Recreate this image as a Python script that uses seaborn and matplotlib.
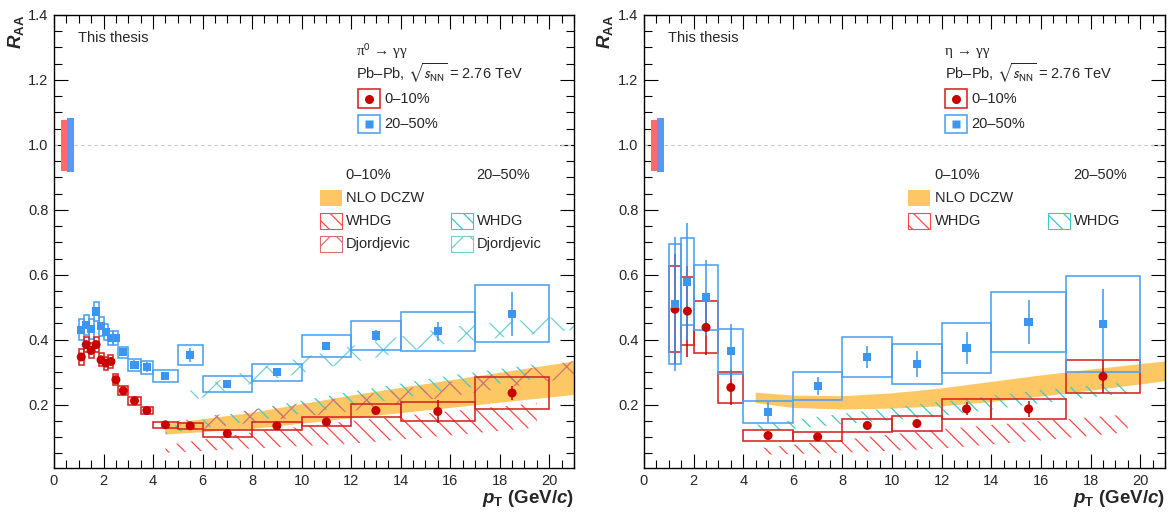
import numpy as np
import pandas as pd
import matplotlib
matplotlib.use("Agg")
import matplotlib.pyplot as plt
from matplotlib.patches import Rectangle
from matplotlib.ticker import MultipleLocator, FormatStrFormatter
import seaborn as sns

# ---------------- pi0 -> gamma gamma (left panel) ----------------
pi_pt = [1.1, 1.3, 1.5, 1.7, 1.9, 2.1, 2.3, 2.5, 2.8, 3.25, 3.75, 4.5, 5.5, 7, 9, 11, 13, 15.5, 18.5]
pi_lo = [1.0, 1.2, 1.4, 1.6, 1.8, 2.0, 2.2, 2.4, 2.6, 3.0, 3.5, 4, 5, 6, 8, 10, 12, 14, 17]
pi_hi = [1.2, 1.4, 1.6, 1.8, 2.0, 2.2, 2.4, 2.6, 3.0, 3.5, 4.0, 5, 6, 8, 10, 12, 14, 17, 20]
pi_c0 = [0.347, 0.385, 0.367, 0.385, 0.338, 0.328, 0.333, 0.277, 0.243, 0.212, 0.182, 0.138, 0.135, 0.111, 0.135, 0.147, 0.182, 0.179, 0.236]
pi_c0_sys = [0.024, 0.024, 0.024, 0.024, 0.02, 0.02, 0.02, 0.017, 0.014, 0.012, 0.011, 0.009, 0.009, 0.01, 0.012, 0.014, 0.021, 0.03, 0.05]
pi_c0_stat = [0.01, 0.01, 0.01, 0.01, 0.01, 0.01, 0.01, 0.008, 0.008, 0.006, 0.005, 0.004, 0.005, 0.006, 0.008, 0.01, 0.012, 0.035, 0.022]
pi_c2 = [0.431, 0.446, 0.433, 0.487, 0.441, 0.423, 0.405, 0.405, 0.361, 0.323, 0.316, 0.289, 0.352, 0.264, 0.30, 0.381, 0.413, 0.426, 0.48]
pi_c2_sys = [0.032, 0.03, 0.03, 0.03, 0.028, 0.025, 0.022, 0.022, 0.018, 0.019, 0.02, 0.019, 0.031, 0.025, 0.026, 0.035, 0.044, 0.06, 0.088]
pi_c2_stat = [0.012, 0.012, 0.012, 0.015, 0.012, 0.012, 0.012, 0.012, 0.012, 0.014, 0.015, 0.008, 0.022, 0.01, 0.012, 0.012, 0.018, 0.03, 0.068]

pi_nlo_pt = [4.5, 8, 12, 16, 21]
pi_nlo_lo = [0.108, 0.125, 0.158, 0.19, 0.23]
pi_nlo_hi = [0.14, 0.175, 0.228, 0.275, 0.333]
pi_whdg0_pt = [4.5, 8, 12, 16, 19.5]
pi_whdg0_lo = [0.052, 0.065, 0.08, 0.105, 0.13]
pi_whdg0_hi = [0.075, 0.115, 0.15, 0.18, 0.205]
pi_whdg2_pt = [4.5, 8, 12, 16, 19.5]
pi_whdg2_lo = [0.11, 0.15, 0.195, 0.245, 0.28]
pi_whdg2_hi = [0.13, 0.185, 0.24, 0.29, 0.325]
pi_djo0_pt = [5, 8, 12, 16, 21]
pi_djo0_lo = [0.115, 0.145, 0.18, 0.225, 0.285]
pi_djo0_hi = [0.15, 0.185, 0.225, 0.27, 0.335]
pi_djo2_pt = [5, 8, 12, 16, 21]
pi_djo2_lo = [0.2, 0.265, 0.33, 0.39, 0.43]
pi_djo2_hi = [0.23, 0.31, 0.38, 0.44, 0.475]

# ---------------- eta -> gamma gamma (right panel) ----------------
eta_pt = [1.25, 1.75, 2.5, 3.5, 5, 7, 9, 11, 13, 15.5, 18.5]
eta_lo = [1.0, 1.5, 2, 3, 4, 6, 8, 10, 12, 14, 17]
eta_hi = [1.5, 2.0, 3, 4, 6, 8, 10, 12, 14, 17, 20]
eta_c0 = [0.494, 0.488, 0.438, 0.253, 0.105, 0.101, 0.136, 0.142, 0.187, 0.187, 0.287]
eta_c0_sys = [0.132, 0.105, 0.08, 0.048, 0.017, 0.014, 0.019, 0.023, 0.031, 0.032, 0.051]
eta_c0_stat = [0.17, 0.14, 0.085, 0.055, 0.013, 0.01, 0.012, 0.015, 0.02, 0.025, 0.052]
eta_c2 = [0.51, 0.579, 0.53, 0.364, 0.177, 0.258, 0.347, 0.325, 0.374, 0.454, 0.449]
eta_c2_sys = [0.185, 0.135, 0.099, 0.069, 0.033, 0.043, 0.062, 0.062, 0.077, 0.093, 0.147]
eta_c2_stat = [0.205, 0.18, 0.117, 0.085, 0.03, 0.028, 0.035, 0.04, 0.05, 0.067, 0.107]

eta_nlo_pt = [4.5, 6, 8, 10, 12, 14, 16, 18, 21]
eta_nlo_lo = [0.205, 0.19, 0.185, 0.188, 0.195, 0.208, 0.225, 0.243, 0.272]
eta_nlo_hi = [0.237, 0.228, 0.226, 0.235, 0.25, 0.27, 0.29, 0.308, 0.333]
eta_whdg0_pt = [4.5, 8, 12, 16, 19.5]
eta_whdg0_lo = [0.045, 0.052, 0.065, 0.09, 0.115]
eta_whdg0_hi = [0.065, 0.092, 0.125, 0.15, 0.17]
eta_whdg2_pt = [4.5, 8, 12, 16, 19.5]
eta_whdg2_lo = [0.115, 0.14, 0.165, 0.205, 0.235]
eta_whdg2_hi = [0.138, 0.172, 0.21, 0.245, 0.27]

norm_red = [0.28, 0.54, 0.92, 1.078]
norm_blue = [0.54, 0.80, 0.915, 1.083]

# ---------------- style ----------------
sns.set_theme(style="ticks")
plt.rcParams["font.family"] = ["Liberation Sans", "DejaVu Sans"]
plt.rcParams["mathtext.fontset"] = "custom"
plt.rcParams["mathtext.rm"] = "Liberation Sans:bold"
plt.rcParams["mathtext.bf"] = "Liberation Sans:bold"
plt.rcParams["mathtext.it"] = "Liberation Sans:italic:bold"
plt.rcParams["hatch.linewidth"] = 0.9

RED = "#c80000"
RED_BOX = "#d42424"
BLUE = "#3a96f0"
BLUE_BOX = "#4aa0f2"
ORANGE = "#fdc864"
WRED = "#ff4a4a"
WCYAN = "#3cc8c8"
DRED = "#d77070"
DCYAN = "#70d0d0"
FS = 10.5
SERIF = ["Liberation Serif", "DejaVu Serif"]

fig = plt.figure(figsize=(11.7, 5.14), dpi=100)
axL = fig.add_axes([54 / 1170, 46 / 514, 520 / 1170, 453 / 514])
axR = fig.add_axes([644 / 1170, 46 / 514, 521 / 1170, 453 / 514])


def band(ax, x, lo, hi, **kw):
    ax.fill_between(x, lo, hi, **kw)


def hatch_band(ax, x, lo, hi, color, hatch, z=2):
    ax.fill_between(x, lo, hi, facecolor="none", edgecolor=color, hatch=hatch,
                    linewidth=0, zorder=z)


def data_series(ax, pt, lo, hi, c, sys_, stat, mcolor, bcolor, marker, size):
    for a, b, v, e in zip(lo, hi, c, sys_):
        ax.add_patch(Rectangle((a, v - e), b - a, 2 * e, fill=False,
                               edgecolor=bcolor, lw=1.15, zorder=4))
    ax.vlines(pt, np.array(c) - np.array(stat), np.array(c) + np.array(stat),
              color=mcolor, lw=1.1, zorder=5)
    df = pd.DataFrame({"pt": pt, "raa": c})
    sns.scatterplot(data=df, x="pt", y="raa", ax=ax, marker=marker, color=mcolor,
                    s=size, edgecolor="none", linewidth=0, zorder=6, legend=False)


def frame(ax):
    ax.set_xlim(0, 21)
    ax.set_ylim(0.005, 1.4)
    ax.xaxis.set_major_locator(MultipleLocator(2))
    ax.xaxis.set_minor_locator(MultipleLocator(0.5))
    ax.yaxis.set_major_locator(MultipleLocator(0.2))
    ax.yaxis.set_minor_locator(MultipleLocator(0.05))
    ax.yaxis.set_major_formatter(FormatStrFormatter("%.1f"))
    ax.set_yticks([0.2, 0.4, 0.6, 0.8, 1.0, 1.2, 1.4])
    ax.tick_params(which="both", direction="in", top=True, right=True,
                   width=0.8, color="black", labelsize=FS)
    ax.tick_params(which="major", length=10, pad=4)
    ax.tick_params(which="minor", length=5.5)
    for sp in ax.spines.values():
        sp.set_visible(True)
        sp.set_linewidth(1.0)
        sp.set_color("black")
    ax.set_xlabel("")
    ax.set_ylabel("")
    ax.axhline(1.0, color="#c8c8c8", lw=0.8, ls=(0, (3, 3)), zorder=1)
    ax.add_patch(Rectangle((norm_red[0], norm_red[2]), norm_red[1] - norm_red[0],
                           norm_red[3] - norm_red[2], facecolor="#ff6a6a",
                           edgecolor="none", zorder=3))
    ax.add_patch(Rectangle((norm_blue[0], norm_blue[2]), norm_blue[1] - norm_blue[0],
                           norm_blue[3] - norm_blue[2], facecolor="#5a98f4",
                           edgecolor="none", zorder=3))
    ax.text(-0.074, 1.0, r"$R_{\mathrm{AA}}$", rotation=90, ha="center", va="top",
            transform=ax.transAxes, fontsize=13.5)
    ax.text(1.0, -0.045, r"$p_{\mathrm{T}}$ (GeV/$c$)", ha="right", va="top",
            transform=ax.transAxes, fontsize=13.5, fontweight="bold")
    ax.text(0.046, 0.949, "This thesis", transform=ax.transAxes, fontsize=FS,
            ha="left", va="center")


def swatch(ax, x0, y0, w, h, **kw):
    ax.add_patch(Rectangle((x0, y0), w, h, transform=ax.transAxes, clip_on=False,
                           zorder=7, **kw))


def legend_block(ax, title, xt, xb, xh0, xh2, xs0, xs2, djo):
    T = ax.transAxes
    ax.text(xt, 0.919, title, transform=T, fontsize=FS + 0.5, va="center",
            ha="left", family=SERIF, math_fontfamily="stixsans")
    ax.text(xt, 0.872, r"Pb–Pb, $\sqrt{s_{\mathrm{NN}}}$ = 2.76 TeV", transform=T,
            fontsize=FS, va="center", ha="left", math_fontfamily="stixsans")
    w = 0.043
    for yc, bc, mc, mk, lab, ms in [(0.8156, RED_BOX, RED, "o", "0–10%", 6.5),
                                    (0.7594, BLUE_BOX, BLUE, "s", "20–50%", 5.8)]:
        swatch(ax, xb, yc - 0.02, w, 0.04, fill=False, edgecolor=bc, lw=1.15)
        ax.plot([xb + w / 2], [yc], marker=mk, color=mc, ms=ms, mec="none",
                transform=T, clip_on=False, zorder=8)
        ax.text(xb + w + 0.008, yc, lab, transform=T, fontsize=FS, va="center")
    ax.text(xh0, 0.6468, "0–10%", transform=T, fontsize=FS, va="center")
    ax.text(xh2, 0.6468, "20–50%", transform=T, fontsize=FS, va="center")
    sw = 0.0423
    sh = 0.035
    swatch(ax, xs0, 0.5784, sw, sh, facecolor=ORANGE, edgecolor="none")
    ax.text(xs0 + sw + 0.008, 0.596, "NLO DCZW", transform=T, fontsize=FS, va="center")
    rows = [(0.5276, "WHDG", WRED, WCYAN, "\\\\")]
    if djo:
        rows.append((0.4768, "Djordjevic", DRED, DCYAN, "x"))
    for y0, lab, c0, c2, h in rows:
        swatch(ax, xs0, y0, sw, sh, facecolor="none", edgecolor=c0, hatch=h, lw=0.8)
        ax.text(xs0 + sw + 0.008, y0 + sh / 2, lab, transform=T, fontsize=FS, va="center")
        swatch(ax, xs2, y0, sw, sh, facecolor="none", edgecolor=c2, hatch=h, lw=0.8)
        ax.text(xs2 + sw + 0.008, y0 + sh / 2, lab, transform=T, fontsize=FS, va="center")


# ---------------- left panel ----------------
band(axL, pi_nlo_pt, pi_nlo_lo, pi_nlo_hi, facecolor=ORANGE, edgecolor="none", zorder=1.5)
hatch_band(axL, pi_whdg0_pt, pi_whdg0_lo, pi_whdg0_hi, WRED, "\\\\")
hatch_band(axL, pi_whdg2_pt, pi_whdg2_lo, pi_whdg2_hi, WCYAN, "\\\\")
hatch_band(axL, pi_djo0_pt, pi_djo0_lo, pi_djo0_hi, DRED, "x")
hatch_band(axL, pi_djo2_pt, pi_djo2_lo, pi_djo2_hi, DCYAN, "x")
data_series(axL, pi_pt, pi_lo, pi_hi, pi_c2, pi_c2_sys, pi_c2_stat, BLUE, BLUE_BOX, "s", 34)
data_series(axL, pi_pt, pi_lo, pi_hi, pi_c0, pi_c0_sys, pi_c0_stat, RED, RED_BOX, "o", 42)
frame(axL)
legend_block(axL, "π$^{0}$ → γγ", 0.5808, 0.5846,
             0.5596, 0.8115, 0.5115, 0.7635, True)

# ---------------- right panel ----------------
band(axR, eta_nlo_pt, eta_nlo_lo, eta_nlo_hi, facecolor=ORANGE, edgecolor="none", zorder=1.5)
hatch_band(axR, eta_whdg0_pt, eta_whdg0_lo, eta_whdg0_hi, WRED, "\\\\")
hatch_band(axR, eta_whdg2_pt, eta_whdg2_lo, eta_whdg2_hi, WCYAN, "\\\\")
data_series(axR, eta_pt, eta_lo, eta_hi, eta_c0, eta_c0_sys, eta_c0_stat, RED, RED_BOX, "o", 42)
data_series(axR, eta_pt, eta_lo, eta_hi, eta_c2, eta_c2_sys, eta_c2_stat, BLUE, BLUE_BOX, "s", 34)
frame(axR)
legend_block(axR, "η → γγ", 0.5777, 0.5771,
             0.5566, 0.824, 0.5073, 0.7748, False)

fig.savefig("out.png", dpi=100)
